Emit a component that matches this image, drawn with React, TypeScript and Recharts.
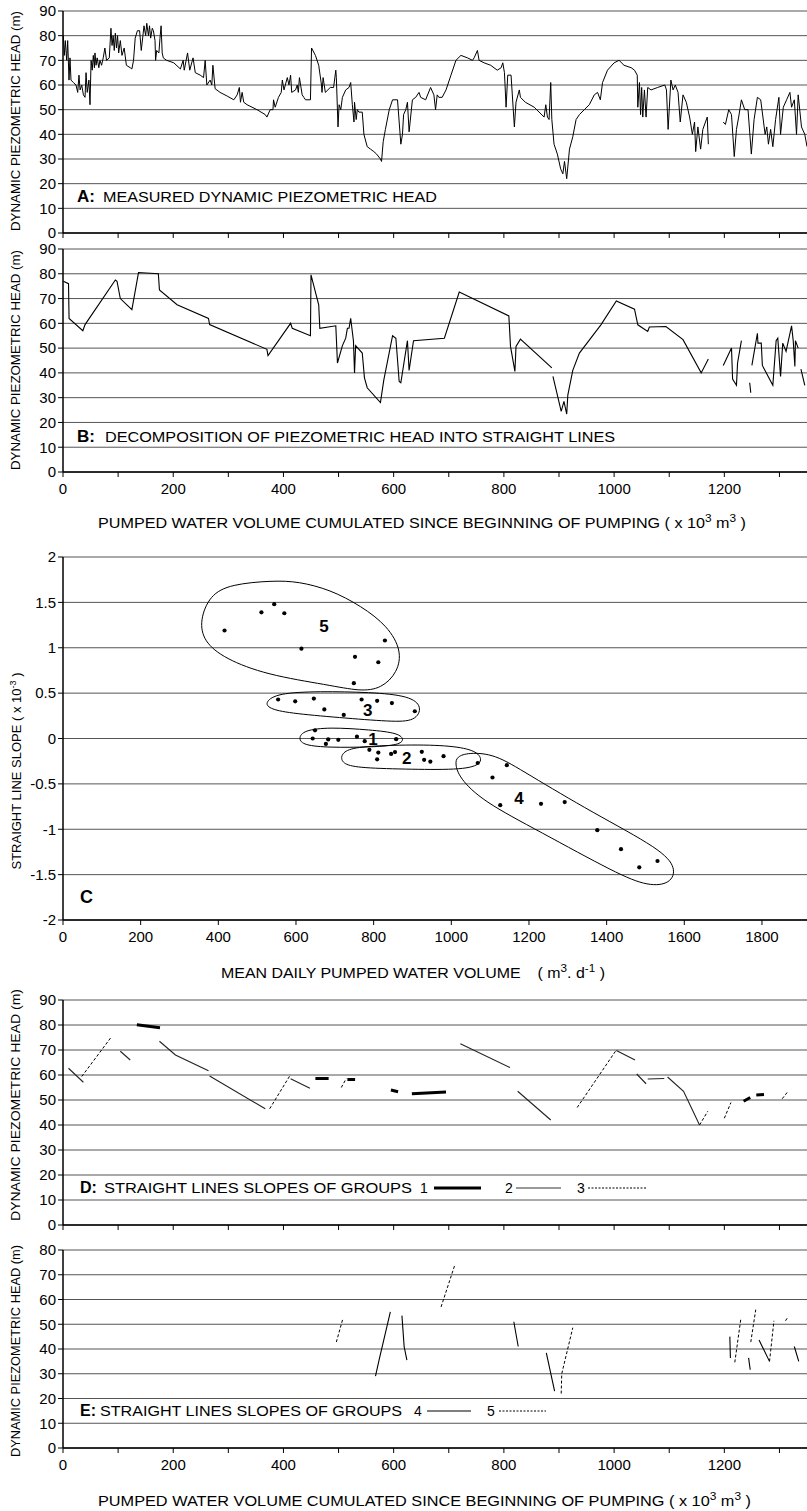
import React from 'react';
import { LineChart, ComposedChart, Line, Scatter, XAxis, YAxis, CartesianGrid } from 'recharts';

if (typeof document !== 'undefined') document.body.style.margin = '0';

const FONT = "'Liberation Sans', Arial, Helvetica, sans-serif";
const W = 807;

// ---- ticks ----
const volumeTicks = [0, 100, 200, 300, 400, 500, 600, 700, 800, 900, 1000, 1100, 1200, 1300];
const head90Ticks = [0, 10, 20, 30, 40, 50, 60, 70, 80, 90];
const head80Ticks = [0, 10, 20, 30, 40, 50, 60, 70, 80];
const slopeTicks = [-2, -1.5, -1, -0.5, 0, 0.5, 1, 1.5, 2];
const dailyTicks = [0, 200, 400, 600, 800, 1000, 1200, 1400, 1600, 1800];

// ---- A: measured dynamic piezometric head ----
const headMeasured: (number | null)[][] = [
  [0.6, 80], [2.4, 72], [4.2, 78], [6.7, 70], [8.5, 78], [10.9, 62], [12.7, 71], [14.5, 62], [18.8, 61],
  [23.6, 60], [26.7, 57], [29, 64], [31, 58], [34, 60], [37, 56], [40, 55], [41.8, 65], [44, 57], [47, 62],
  [49, 52], [51, 70], [53, 66], [55, 72], [57, 67], [58, 73], [60, 68], [62, 71], [65, 67], [67, 70],
  [70, 68], [73, 71], [76, 75], [79, 70], [84, 71], [87, 83], [89, 76], [91, 80], [93, 74], [95, 81],
  [97, 75], [99, 80], [101, 73], [104, 78], [107, 72], [111, 75], [115, 68], [122, 67], [125, 66.5],
  [128, 70], [131, 79], [135, 82], [139, 82], [142, 74], [145, 80], [147, 84], [150, 80], [152, 85],
  [155, 80], [157, 84], [159, 79], [162, 83], [164, 82], [167, 78], [168, 70], [170, 74], [174, 73],
  [176, 79], [178, 84], [180, 73], [182, 71], [188, 70], [201, 69], [213, 66.5], [218, 70], [220, 66],
  [226, 73], [230, 66], [236, 71], [240, 65], [249, 64], [255, 63], [258, 70], [261, 60], [267, 62],
  [270, 60], [272, 68], [276, 58.5], [285, 57], [298, 55.5], [310, 54], [316, 56], [320, 59], [322, 53],
  [325, 57], [328, 53], [334, 52], [352, 50], [367, 48], [370, 47], [376, 50], [381, 50], [382, 54],
  [385, 51], [391, 55], [396, 57], [398, 62], [401, 58], [407, 63], [410, 60], [413, 64], [415, 57],
  [422, 58], [425, 60], [427, 57], [429, 63], [434, 56], [437, 55], [440, 54], [449, 54], [451, 75],
  [458, 72], [464, 68], [469, 60], [470, 57], [472, 63], [476, 57], [485, 59], [491, 59], [495, 66],
  [496, 63], [499, 43], [501, 52], [504, 50], [507, 55], [513, 58], [519, 59], [522, 61], [525, 52],
  [528, 45], [529, 53], [532, 46], [534, 50], [537, 49], [543, 49], [546, 40], [552, 35], [558, 34],
  [564, 33], [569, 32], [576, 30], [578, 29], [581, 37], [585, 42], [592, 50], [598, 54], [607, 54],
  [613, 36], [616, 40], [618, 48], [622, 50], [625, 53], [628, 41], [634, 54], [640, 55], [646, 57],
  [649, 55], [658, 54], [667, 59], [673, 56], [676, 50], [679, 56], [682, 55], [688, 55], [695, 58],
  [704, 64], [713, 70], [722, 72], [734, 71], [743, 70], [746, 71], [752, 74], [755, 70], [764, 69],
  [776, 68], [788, 66], [795, 67], [798, 69], [801, 65], [804, 51], [807, 64], [813, 64], [819, 43],
  [822, 53], [828, 58], [830, 55], [839, 53], [855, 51], [873, 47], [876, 52], [879, 47], [882, 46],
  [885, 61], [887, 46], [891, 36], [897, 32], [903, 26], [907, 24], [910, 29], [914, 22], [919, 34],
  [925, 39], [931, 46], [937, 48], [946, 50], [955, 52], [964, 56], [970, 57], [975, 54], [979, 61],
  [988, 66], [1000, 69], [1009, 70], [1018, 68], [1031, 67], [1037, 66], [1042, 64], [1043, 51],
  [1046, 61], [1048, 48], [1050, 59], [1052, 47], [1055, 58], [1058, 47], [1061, 59], [1067, 58],
  [1079, 59], [1092, 60], [1095, 58], [1098, 42], [1103, 62], [1107, 58], [1111, 60], [1116, 57],
  [1120, 45], [1125, 56], [1131, 53], [1137, 47], [1142, 40], [1146, 45], [1148, 33], [1152, 43],
  [1157, 34], [1161, 42], [1169, 47], [1171, 36], [1185, null], [1198, 45], [1202, 44], [1208, 50],
  [1213, 48], [1218, 31], [1222, 42], [1226, 47], [1231, 54], [1237, 50], [1243, 50], [1249, 32],
  [1254, 46], [1260, 55], [1266, 54], [1274, 40], [1277, 43], [1280, 36], [1284, 42], [1288, 35],
  [1293, 46], [1299, 55], [1302, 40], [1307, 51], [1313, 54], [1319, 57], [1322, 51], [1327, 54],
  [1331, 40], [1334, 56], [1340, 43], [1346, 40], [1350, 35],
];

// ---- B: decomposition into straight lines ----
const straightLines: number[][][] = [
  [[0.6, 77], [10, 76], [11, 62], [36, 57], [40, 59.5], [95, 77.5], [98, 77], [104, 70], [125, 65.5],
   [137, 80.5], [173, 80], [175, 73.5], [207, 67.5], [264, 62], [266, 59.5], [370, 49.5], [372, 47],
   [413, 60], [416, 58], [449, 55], [450, 79.6], [464, 67.5], [466, 58], [495, 59], [498, 44], [507, 51],
   [513, 54], [516, 58], [519, 58], [522, 62], [527, 53], [529, 40], [531, 51], [543, 48], [547, 38],
   [552, 34], [576, 28], [582, 37], [598, 55], [604, 54], [610, 36.5], [613, 36], [625, 53], [628, 41],
   [636, 53], [692, 54], [719, 72.6], [809, 63], [812, 50.7], [820, 40.6], [822, 50.7], [830, 53.6], [887, 42]],
  [[889, 38.6], [904, 24.5], [909, 28.5], [914, 23.4], [916, 31], [925, 41], [937, 48], [976, 59.4],
   [1004, 69], [1037, 65.7], [1043, 59.4], [1061, 56.7], [1064, 58.5], [1094, 58.7], [1125, 53.4],
   [1158, 40], [1171, 45.6]],
  [[1198, 43], [1213, 50], [1215, 37.5], [1222, 35], [1224, 44], [1231, 53]],
  [[1246, 36], [1248, 32]],
  [[1250, 43], [1260, 56], [1261, 52], [1267, 52], [1269, 43], [1288, 35], [1294, 53], [1297, 54],
   [1302, 38.6], [1306, 52], [1312, 48.7], [1322, 59], [1325, 53], [1328, 42.6], [1329, 53], [1334, 50]],
  [[1339, 41.5], [1346, 35]],
];

// ---- C: slope vs mean daily volume, by group ----
const group1Pts = [[649, 0.09], [643, 0], [683, -0.01], [677, -0.06], [709, -0.015], [757, 0.02], [777, -0.03], [858, -0.007]];
const group2Pts = [[789, -0.125], [812, -0.155], [809, -0.23], [845, -0.17], [855, -0.15], [924, -0.147], [930, -0.235], [946, -0.254], [980, -0.195]];
const group3Pts = [[554, 0.43], [598, 0.41], [646, 0.44], [673, 0.32], [723, 0.26], [769, 0.43], [809, 0.415], [847, 0.39], [906, 0.3]];
const group4Pts = [[1068, -0.27], [1143, -0.294], [1106, -0.43], [1126, -0.735], [1231, -0.72], [1292, -0.7], [1376, -1.01], [1437, -1.22], [1484, -1.42], [1531, -1.35]];
const group5Pts = [[416, 1.19], [511, 1.39], [544, 1.48], [570, 1.38], [614, 0.99], [752, 0.9], [829, 1.08], [812, 0.84], [749, 0.61]];

const outline1 = [[606, 0], [619, 0.09], [686, 0.125], [792, 0.095], [865, 0.06], [880, -0.02], [860, -0.075], [792, -0.095], [686, -0.1], [619, -0.075]];
const outline2 = [[714, -0.2], [730, -0.115], [792, -0.08], [938, -0.065], [1032, -0.095], [1074, -0.165], [1080, -0.28], [1032, -0.345], [898, -0.34], [765, -0.325], [722, -0.285]];
const outline3 = [[520, 0.4], [552, 0.5], [659, 0.52], [792, 0.51], [893, 0.47], [926, 0.35], [908, 0.19], [845, 0.185], [712, 0.23], [580, 0.28], [530, 0.33]];
const outline4 = [[1014, -0.2], [1044, -0.155], [1112, -0.17], [1192, -0.38], [1365, -0.82], [1540, -1.22], [1580, -1.43], [1565, -1.6], [1508, -1.63], [1426, -1.49], [1226, -1.02], [1080, -0.69], [1020, -0.43], [1010, -0.28]];
const outline5 = [[352, 1.3], [378, 1.58], [432, 1.7], [540, 1.74], [606, 1.73], [688, 1.64], [768, 1.46], [836, 1.24], [872, 0.97], [862, 0.73], [820, 0.55], [765, 0.52], [684, 0.59], [525, 0.7], [416, 0.88], [362, 1.07]];

const clusterLabels = [
  { x: 672, y: 1.24, label: '5' },
  { x: 785, y: 0.31, label: '3' },
  { x: 798, y: 0.0, label: '1' },
  { x: 885, y: -0.22, label: '2' },
  { x: 1174, y: -0.66, label: '4' },
];

// ---- D / E: straight-line segments by group ----
const group1Segs = [
  [[134, 80.1], [176, 78.9]], [[458, 58.6], [482, 58.6]], [[516, 58.2], [530, 58.2]],
  [[595, 54], [608, 53.3]], [[633, 52.5], [695, 53.2]], [[1235, 49.5], [1247, 51]], [[1258, 52], [1272, 52.2]],
];
const group2Segs = [
  [[10, 62.7], [37, 57.1]], [[104, 69.5], [122, 66]], [[175, 73.5], [204, 68], [264, 61.7]],
  [[266, 59.6], [367, 46.5]], [[413, 58.5], [448, 54.7]], [[721, 72.5], [811, 63]], [[825, 53.5], [885, 42]],
  [[1004, 69.8], [1038, 66]], [[1041, 60.4], [1058, 56.5]], [[1061, 58.4], [1091, 58.6]],
  [[1097, 59.2], [1126, 53.5], [1155, 40]],
];
const group3Segs = [
  [[34, 59.4], [87, 75]], [[375, 46.5], [413, 60.2]], [[505, 55], [514, 58.6]], [[933, 47], [1004, 70]],
  [[1155, 40], [1170, 45.5]], [[1200, 42.7], [1212, 49]], [[1305, 50.5], [1314, 53]],
];
const group4Segs = [
  [[567, 29], [574, 36], [594, 55]], [[615, 53.5], [619, 41], [624, 35.5]], [[818, 51], [826, 41]],
  [[877, 38.4], [892, 23]], [[1210, 45], [1211, 36.4]], [[1244, 36.4], [1247, 31.6]],
  [[1263, 43.6], [1282, 35]], [[1327, 41], [1335, 35]],
];
const group5Segs = [
  [[496, 42.8], [508, 52.4]], [[686, 57], [711, 74]], [[904, 22], [905, 30], [925, 48.6]],
  [[1219, 34.6], [1230, 52.3]], [[1248, 42.8], [1257, 55.9]], [[1282, 35], [1290, 51.4]], [[1311, 51.4], [1316, 53.1]],
];

type P = { x: number; y: number | null };
const toPts = (arr: (number | null)[][]): P[] => arr.map(([x, y]) => ({ x: x as number, y }));
const joinSegs = (list: number[][][]): P[] =>
  list.flatMap((s, i) => (i === 0 ? toPts(s) : [{ x: s[0][0], y: null }, ...toPts(s)]));

const tickStyle = { fontSize: 15, fill: '#000', fontFamily: FONT };
const axisStroke = { stroke: '#000', strokeWidth: 1.5 };
const noLabel = () => '';
const every200 = (v: number) => (v % 200 === 0 ? String(v) : '');

const seg = (key: string, data: P[], width = 1, dash?: string, color = '#000') => (
  <Line
    key={key}
    data={data}
    dataKey="y"
    type="linear"
    stroke={color}
    strokeWidth={width}
    strokeDasharray={dash}
    dot={false}
    activeDot={false}
    connectNulls={false}
    isAnimationActive={false}
  />
);

const HeadChart = ({ height, mTop, mBottom, xH, yMax, yTicks, labels, children }: any) => (
  <LineChart width={W} height={height} margin={{ top: mTop, right: 0, bottom: mBottom, left: 0 }}>
    <CartesianGrid vertical={false} stroke="#555" strokeWidth={1} />
    <XAxis
      type="number"
      dataKey="x"
      domain={[0, 1350]}
      ticks={volumeTicks}
      interval={0}
      allowDataOverflow
      height={xH}
      tickSize={5}
      tickMargin={6}
      tick={tickStyle}
      tickFormatter={labels ? every200 : noLabel}
      axisLine={axisStroke}
      tickLine={{ stroke: '#000' }}
    />
    <YAxis
      type="number"
      domain={[0, yMax]}
      ticks={yTicks}
      interval={0}
      width={63}
      tickSize={5}
      tickMargin={2}
      tick={tickStyle}
      axisLine={axisStroke}
      tickLine={{ stroke: '#000' }}
    />
    {children}
  </LineChart>
);

const dotShape = (p: any) => <circle cx={p.cx} cy={p.cy} r={2.1} fill="#000" />;
const labelShape = (p: any) => (
  <text x={p.cx} y={p.cy} dy={6} textAnchor="middle" fontSize={17} fontWeight="bold" fontFamily={FONT}>
    {p.payload.label}
  </text>
);

const SlopeChart = () => {
  const groups = [group1Pts, group2Pts, group3Pts, group4Pts, group5Pts];
  const outlines = [outline1, outline2, outline3, outline4, outline5];
  return (
    <ComposedChart width={W} height={450} margin={{ top: 17, right: 0, bottom: 40, left: 0 }}>
      <CartesianGrid vertical={false} stroke="#555" strokeWidth={1} />
      <XAxis
        type="number"
        dataKey="x"
        domain={[0, 1916]}
        ticks={dailyTicks}
        interval={0}
        allowDataOverflow
        height={30}
        tickSize={5}
        tickMargin={6}
        tick={tickStyle}
        axisLine={axisStroke}
        tickLine={{ stroke: '#000' }}
      />
      <YAxis
        type="number"
        dataKey="y"
        domain={[-2, 2]}
        ticks={slopeTicks}
        interval={0}
        width={63}
        tickSize={5}
        tickMargin={2}
        tick={tickStyle}
        axisLine={axisStroke}
        tickLine={{ stroke: '#000' }}
      />
      {outlines.map((o, i) => (
        <Line
          key={`o${i}`}
          data={toPts(o)}
          dataKey="y"
          type="basisClosed"
          stroke="#000"
          strokeWidth={1}
          dot={false}
          activeDot={false}
          isAnimationActive={false}
        />
      ))}
      {groups.map((g, i) => (
        <Scatter key={`g${i}`} data={toPts(g)} dataKey="y" shape={dotShape} isAnimationActive={false} />
      ))}
      <Scatter data={clusterLabels} dataKey="y" shape={labelShape} isAnimationActive={false} />
    </ComposedChart>
  );
};

const VolumeTitle = ({ y, len }: { y: number; len: number }) => (
  <text x={98} y={y} fontSize={15} textLength={len} lengthAdjust="spacingAndGlyphs">
    PUMPED WATER VOLUME CUMULATED SINCE BEGINNING OF PUMPING ( x 10
    <tspan dy={-6} fontSize={11}>3</tspan>
    <tspan dy={6}> m</tspan>
    <tspan dy={-6} fontSize={11}>3</tspan>
    <tspan dy={6}> )</tspan>
  </text>
);

const Overlay = () => (
  <svg width={W} height={1511} style={{ position: 'absolute', left: 0, top: 0, pointerEvents: 'none' }} fontFamily={FONT}>
    {/* y axis titles */}
    <text transform="translate(20,121) rotate(-90)" textAnchor="middle" fontSize={12.5} textLength={220} lengthAdjust="spacingAndGlyphs">DYNAMIC PIEZOMETRIC HEAD (m)</text>
    <text transform="translate(20,360) rotate(-90)" textAnchor="middle" fontSize={12.5} textLength={220} lengthAdjust="spacingAndGlyphs">DYNAMIC PIEZOMETRIC HEAD (m)</text>
    <text transform="translate(21,771) rotate(-90)" textAnchor="middle" fontSize={13}>
      STRAIGHT LINE SLOPE ( x 10<tspan dy={-5} fontSize={9}>-3</tspan><tspan dy={5}> )</tspan>
    </text>
    <text transform="translate(20,1105) rotate(-90)" textAnchor="middle" fontSize={12.5} textLength={232} lengthAdjust="spacingAndGlyphs">DYNAMIC PIEZOMETRIC HEAD (m)</text>
    <text transform="translate(20,1351) rotate(-90)" textAnchor="middle" fontSize={12.5} textLength={212} lengthAdjust="spacingAndGlyphs">DYNAMIC PIEZOMETRIC HEAD (m)</text>

    {/* panel annotations */}
    <text x={77} y={202} fontSize={17} fontWeight="bold">A:</text>
    <text x={103} y={202} fontSize={14} textLength={334} lengthAdjust="spacingAndGlyphs">MEASURED DYNAMIC PIEZOMETRIC HEAD</text>
    <text x={77} y={442} fontSize={17} fontWeight="bold">B:</text>
    <text x={105} y={442} fontSize={14} textLength={510} lengthAdjust="spacingAndGlyphs">DECOMPOSITION OF PIEZOMETRIC HEAD INTO STRAIGHT LINES</text>
    <text x={80} y={903} fontSize={18} fontWeight="bold">C</text>

    <text x={80} y={1193} fontSize={16} fontWeight="bold">D:</text>
    <text x={104} y={1193} fontSize={14} textLength={308} lengthAdjust="spacingAndGlyphs">STRAIGHT LINES SLOPES OF GROUPS</text>
    <text x={420} y={1193} fontSize={14}>1</text>
    <line x1={434} y1={1188} x2={481} y2={1188} stroke="#000" strokeWidth={3} />
    <text x={505} y={1193} fontSize={14}>2</text>
    <line x1={516} y1={1188} x2={561} y2={1188} stroke="#777" strokeWidth={1.5} />
    <text x={577} y={1193} fontSize={14}>3</text>
    <line x1={588} y1={1188} x2={646} y2={1188} stroke="#000" strokeWidth={1} strokeDasharray="2 1.5" />

    <text x={80} y={1416} fontSize={16} fontWeight="bold">E:</text>
    <text x={100} y={1416} fontSize={14} textLength={302} lengthAdjust="spacingAndGlyphs">STRAIGHT LINES SLOPES OF GROUPS</text>
    <text x={414} y={1416} fontSize={14}>4</text>
    <line x1={427} y1={1411} x2={471} y2={1411} stroke="#000" strokeWidth={1} />
    <text x={487} y={1416} fontSize={14}>5</text>
    <line x1={499} y1={1411} x2={546} y2={1411} stroke="#000" strokeWidth={1} strokeDasharray="2 1.5" />

    {/* x axis titles */}
    <VolumeTitle y={528} len={648} />
    <text x={221} y={978} fontSize={15} textLength={384} lengthAdjust="spacingAndGlyphs">
      MEAN DAILY PUMPED WATER VOLUME
      <tspan dx={16}>( m</tspan>
      <tspan dy={-6} fontSize={11}>3</tspan>
      <tspan dy={6}>. d</tspan>
      <tspan dy={-6} fontSize={11}>-1</tspan>
      <tspan dy={6}> )</tspan>
    </text>
    <VolumeTitle y={1506} len={653} />
  </svg>
);

const Panel = ({ top, children }: any) => <div style={{ position: 'absolute', left: 0, top }}>{children}</div>;

export default function App() {
  return (
    <div style={{ position: 'relative', width: W, height: 1511, background: '#fff', fontFamily: FONT }}>
      <Panel top={0}>
        <HeadChart height={246} mTop={11} mBottom={6} xH={7} yMax={90} yTicks={head90Ticks} labels={false}>
          {seg('a', toPts(headMeasured), 1)}
        </HeadChart>
      </Panel>
      <Panel top={240}>
        <HeadChart height={300} mTop={9} mBottom={38} xH={30} yMax={90} yTicks={head90Ticks} labels>
          {seg('b', joinSegs(straightLines), 1.1)}
        </HeadChart>
      </Panel>
      <Panel top={540}>
        <SlopeChart />
      </Panel>
      <Panel top={990}>
        <HeadChart height={250} mTop={10} mBottom={10} xH={5} yMax={90} yTicks={head90Ticks} labels={false}>
          {seg('g2', joinSegs(group2Segs), 1.1, undefined, '#222')}
          {seg('g3', joinSegs(group3Segs), 1, '3 2')}
          {seg('g1', joinSegs(group1Segs), 3)}
        </HeadChart>
      </Panel>
      <Panel top={1230}>
        <HeadChart height={281} mTop={20} mBottom={33} xH={30} yMax={80} yTicks={head80Ticks} labels>
          {seg('g4', joinSegs(group4Segs), 1.1)}
          {seg('g5', joinSegs(group5Segs), 1, '3 2')}
        </HeadChart>
      </Panel>
      <Overlay />
    </div>
  );
}
